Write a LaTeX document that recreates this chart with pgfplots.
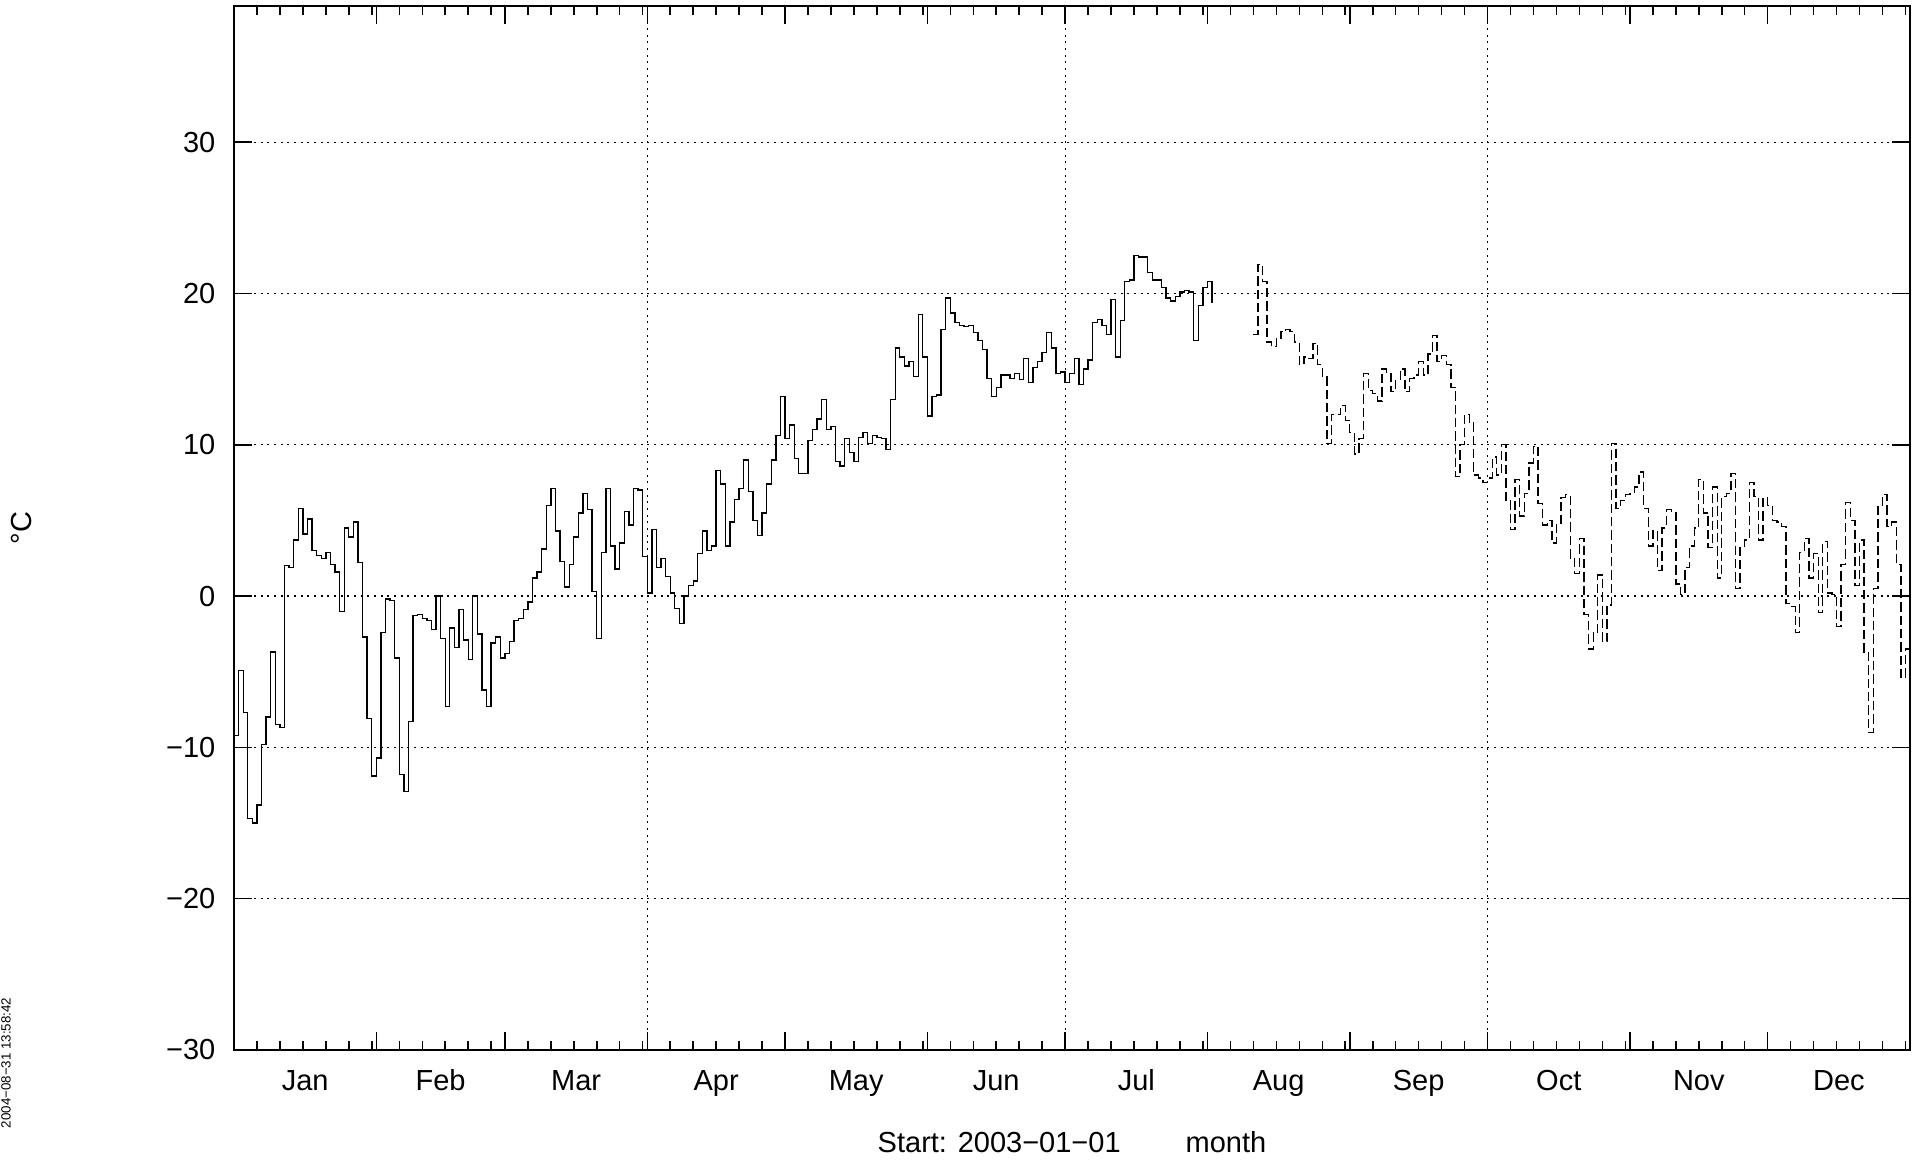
\documentclass[border=0pt]{standalone}
\usepackage{fontspec}
\setmainfont{Liberation Sans}
\usepackage{pgfplots}
\pgfplotsset{compat=1.18}
\usetikzlibrary{calc}

\begin{document}
\fontsize{8.7pt}{10pt}\selectfont
\begin{tikzpicture}
\begin{axis}[
  name=ax,
  width=502.8pt, height=313.2pt, scale only axis,
  xmin=0, xmax=365, ymin=-30, ymax=39,
  clip=false,
  axis line style={line width=0.6pt},
  tick align=inside,
  xtick={0,31,59,90,120,151,181,212,243,273,304,334,365},
  x tick label as interval,
  xticklabels={Jan,Feb,Mar,Apr,May,Jun,Jul,Aug,Sep,Oct,Nov,Dec},
  minor xtick={5,10,15,20,25,30,36,41,46,51,56,64,69,74,79,84,89,95,100,105,110,115,
    125,130,135,140,145,150,156,161,166,171,176,186,191,196,201,206,211,
    217,222,227,232,237,242,248,253,258,263,268,278,283,288,293,298,303,
    309,314,319,324,329,339,344,349,354,359,364},
  ytick={-30,-20,-10,0,10,20,30},
  yticklabels={−30,−20,−10,0,10,20,30},
  major tick length=5.3pt, minor tick length=2.7pt,
  every tick/.style={black, line width=0.45pt},
  ymajorgrids,
  grid style={black, line width=0.35pt, dash pattern=on 0.6pt off 1.4pt},
  tick label style={font=\fontsize{8.7pt}{10pt}\selectfont},
  xticklabel style={anchor=base, yshift=-12.2pt},
  yticklabel style={xshift=-2.5pt},
]
% quarter grid lines
\draw[black, line width=0.35pt, dash pattern=on 0.6pt off 1.4pt] (axis cs:90,-30) -- (axis cs:90,39);
\draw[black, line width=0.35pt, dash pattern=on 0.6pt off 1.4pt] (axis cs:181,-30) -- (axis cs:181,39);
\draw[black, line width=0.35pt, dash pattern=on 0.6pt off 1.4pt] (axis cs:273,-30) -- (axis cs:273,39);

% daily means, Jan 1 - Aug 2
\addplot[black, line width=0.4pt, const plot] coordinates {
(0,-9.2) (1,-4.9) (2,-7.7) (3,-14.7) (4,-15.0) (5,-13.8) (6,-9.8) (7,-8.0) (8,-3.7) (9,-8.5)
(10,-8.7) (11,2.0) (12,1.9) (13,3.7) (14,5.8) (15,4.1) (16,5.1) (17,3.0) (18,2.7) (19,2.5)
(20,2.9) (21,2.1) (22,1.6) (23,-1.0) (24,4.5) (25,3.9) (26,4.9) (27,2.2) (28,-2.7) (29,-8.1)
(30,-11.9) (31,-10.7) (32,-2.4) (33,-0.2) (34,-0.3) (35,-4.1) (36,-11.8) (37,-12.9) (38,-8.3) (39,-1.3)
(40,-1.2) (41,-1.5) (42,-1.6) (43,-2.2) (44,0.0) (45,-2.8) (46,-7.3) (47,-2.1) (48,-3.4) (49,-0.9)
(50,-2.9) (51,-4.2) (52,0.0) (53,-2.5) (54,-6.2) (55,-7.3) (56,-3.1) (57,-2.7) (58,-4.1) (59,-3.8)
(60,-3.0) (61,-1.6) (62,-1.5) (63,-0.9) (64,-0.4) (65,1.2) (66,1.6) (67,3.1) (68,6.0) (69,7.1)
(70,4.3) (71,2.3) (72,0.6) (73,2.1) (74,3.9) (75,5.5) (76,6.8) (77,5.7) (78,0.3) (79,-2.8)
(80,2.9) (81,7.1) (82,3.3) (83,1.8) (84,3.5) (85,5.6) (86,4.7) (87,7.1) (88,7.0) (89,2.6)
(90,0.2) (91,4.4) (92,1.9) (93,2.5) (94,1.3) (95,0.2) (96,-0.8) (97,-1.8) (98,0.0) (99,0.7)
(100,1.0) (101,2.8) (102,4.3) (103,3.0) (104,3.3) (105,8.3) (106,7.4) (107,3.3) (108,4.9) (109,6.4)
(110,7.1) (111,9.0) (112,6.9) (113,5.0) (114,4.0) (115,5.5) (116,7.4) (117,9.0) (118,10.6) (119,13.2)
(120,10.4) (121,11.3) (122,9.1) (123,8.1) (124,8.1) (125,10.3) (126,11.0) (127,11.7) (128,13.0) (129,11.0)
(130,11.2) (131,8.9) (132,8.6) (133,10.4) (134,9.5) (135,8.9) (136,10.5) (137,10.8) (138,10.1) (139,10.6)
(140,10.5) (141,10.4) (142,9.7) (143,13.0) (144,16.4) (145,15.8) (146,15.2) (147,15.5) (148,14.5) (149,18.6)
(150,15.8) (151,11.9) (152,13.2) (153,13.3) (154,17.6) (155,19.7) (156,18.7) (157,18.1) (158,17.9) (159,17.8)
(160,17.9) (161,17.4) (162,16.9) (163,16.3) (164,14.4) (165,13.2) (166,13.8) (167,14.6) (168,14.6) (169,14.4)
(170,14.7) (171,14.3) (172,15.7) (173,14.1) (174,15.1) (175,15.5) (176,16.1) (177,17.4) (178,16.4) (179,14.7)
(180,14.8) (181,14.1) (182,14.7) (183,15.7) (184,14.0) (185,15.0) (186,15.6) (187,18.1) (188,18.3) (189,17.9)
(190,17.3) (191,19.6) (192,15.8) (193,18.2) (194,20.8) (195,20.9) (196,22.5) (197,22.4) (198,22.4) (199,21.4)
(200,20.9) (201,20.9) (202,20.4) (203,19.7) (204,19.5) (205,19.8) (206,20.1) (207,20.2) (208,20.1) (209,16.9)
(210,19.2) (211,20.4) (212,20.8) (213,19.4)
};

% second series, Aug 11 - Dec 31
\addplot[black, line width=0.4pt, const plot, dash pattern=on 2.8pt off 1.2pt] coordinates {
(222,17.3) (223,21.9) (224,20.8) (225,16.8) (226,16.5) (227,17.0) (228,17.5) (229,17.6)
(230,17.5) (231,16.8) (232,15.3) (233,15.8) (234,15.7) (235,16.7) (236,15.3) (237,14.5) (238,10.1) (239,12.0)
(240,12.0) (241,12.6) (242,11.6) (243,10.8) (244,9.4) (245,10.4) (246,14.7) (247,13.6) (248,13.4) (249,12.9)
(250,15.0) (251,14.7) (252,13.5) (253,14.3) (254,15.0) (255,13.5) (256,14.4) (257,14.6) (258,15.5) (259,14.6)
(260,16.0) (261,17.2) (262,15.5) (263,15.9) (264,15.3) (265,13.8) (266,7.9) (267,10.0) (268,12.0) (269,11.5)
(270,8.0) (271,7.8) (272,7.5) (273,7.8) (274,9.2) (275,8.0) (276,10.0) (277,6.3) (278,4.4) (279,7.7)
(280,5.3) (281,6.8) (282,8.8) (283,9.9) (284,6.1) (285,4.7) (286,5.0) (287,3.5) (288,4.8) (289,6.5)
(290,6.7) (291,2.5) (292,1.5) (293,3.8) (294,-1.2) (295,-3.5) (296,-2.4) (297,1.4) (298,-3.0) (299,-0.6)
(300,10.1) (301,5.8) (302,6.3) (303,6.7) (304,6.8) (305,7.2) (306,8.2) (307,5.8) (308,3.3) (309,4.3)
(310,1.7) (311,4.5) (312,5.7) (313,5.5) (314,0.8) (315,0.1) (316,1.9) (317,3.3) (318,4.5) (319,7.7)
(320,5.5) (321,3.2) (322,7.2) (323,1.2) (324,6.6) (325,6.8) (326,8.1) (327,0.5) (328,3.3) (329,3.7)
(330,7.5) (331,6.6) (332,3.7) (333,6.5) (334,6.0) (335,5.0) (336,4.9) (337,4.6) (338,-0.5) (339,-0.7)
(340,-2.4) (341,2.9) (342,3.8) (343,1.2) (344,2.8) (345,-1.1) (346,3.6) (347,0.2) (348,0.1) (349,-2.0)
(350,2.1) (351,6.2) (352,5.0) (353,0.7) (354,3.7) (355,-3.7) (356,-9.0) (357,0.5) (358,6.0) (359,6.7)
(360,4.6) (361,4.9) (362,2.1) (363,-5.4) (364,-3.5) (365,-3.5)
};

\node[anchor=base] at ($(rel axis cs:0.5,0)+(0pt,-30.9pt)$) {Start: 2003−01−01\hspace{19.5pt}month};
\node[rotate=90] at ($(rel axis cs:0,0.5)+(-63.6pt,0pt)$) {°C};
\node[rotate=90, font=\fontsize{4pt}{5pt}\selectfont] at ($(rel axis cs:0,0)+(-68.4pt,-3.9pt)$) {2004−08−31 13:58:42};
\end{axis}
\pgfresetboundingbox
\path[use as bounding box] ($(ax.south west)+(-70.2pt,-33.9pt)$) rectangle ($(ax.north east)+(4.5pt,1.8pt)$);
\end{tikzpicture}
\end{document}
